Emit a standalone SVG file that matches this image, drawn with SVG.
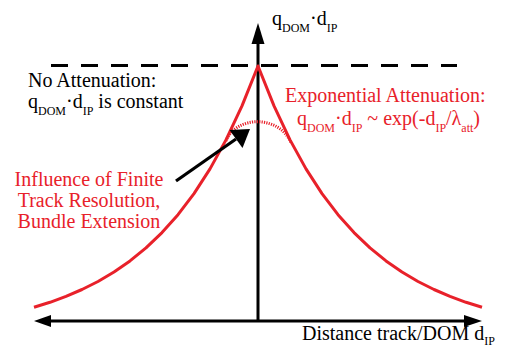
<svg xmlns="http://www.w3.org/2000/svg" width="505" height="348" viewBox="0 0 505 348">
<style>
  .t { font-family: "Liberation Serif", "Times New Roman", serif; font-size: 20px; fill: #000; }
  .red { fill: #e8212a; }
  .sub { font-size: 12px; }
  .axis { stroke: #000; stroke-width: 3; fill: none; }
  .curve { stroke: #e8212a; stroke-width: 3; fill: none; stroke-linejoin: round; stroke-linecap: butt; }
</style>
<g id="connectors">
  <!-- dashed constant line -->
  <line x1="51" y1="65.5" x2="457" y2="65.5" stroke="#000" stroke-width="3" stroke-dasharray="17 13"/>
  <!-- vertical axis -->
  <line class="axis" x1="258" y1="321" x2="258" y2="42"/>
  <path d="M251.5,44 L258,23 L264.5,44 Z" fill="#000"/>
  <!-- horizontal axis -->
  <line class="axis" x1="50" y1="321" x2="466" y2="321"/>
  <path d="M51,315 L34,321 L51,327 Z" fill="#000"/>
  <path d="M464,315 L482,321 L464,327 Z" fill="#000"/>
  <!-- exponential curve -->
  <path class="curve" d="M34,307.3 L50,302.3 L66,296.4 L82,289.5 L98,281.5 L114,272 L130,260.9 L146,247.9 L162,232.6 L178,214.7 L194,193.6 L210,168.9 L226,139.9 L242,105.9 L258,66 L274,105.9 L290,139.9 L306,168.9 L322,193.6 L338,214.7 L354,232.6 L370,247.9 L386,260.9 L402,272 L418,281.5 L434,289.5 L450,296.4 L466,302.3 L482,307.3"/>
  <!-- smoothed dotted curve -->
  <path d="M226,141 C236,115 280,115 291,143" fill="none" stroke="#e8212a" stroke-width="3" stroke-dasharray="1.2 1.2"/>
  <!-- pointer arrow -->
  <line x1="176" y1="181" x2="236" y2="139" stroke="#000" stroke-width="3.2"/>
  <path d="M250,129 L242.5,148 L229.5,130 Z" fill="#000"/>
</g>
<g id="ylabel">
  <text class="t" x="272" y="25">q<tspan class="sub" dy="7">DOM</tspan><tspan dy="-7">·d</tspan><tspan class="sub" dy="7">IP</tspan></text>
</g>
<g id="no-attenuation">
  <text class="t" x="28" y="87">No Attenuation:</text>
  <text class="t" x="28" y="108">q<tspan class="sub" dy="7">DOM</tspan><tspan dy="-7">·d</tspan><tspan class="sub" dy="7">IP</tspan><tspan dy="-7"> is constant</tspan></text>
</g>
<g id="exp-attenuation">
  <text class="t red" x="285" y="102">Exponential Attenuation:</text>
  <text class="t red" x="297" y="125">q<tspan class="sub" dy="7">DOM</tspan><tspan dy="-7">·d</tspan><tspan class="sub" dy="7">IP</tspan><tspan dy="-7"> ~ exp(-d</tspan><tspan class="sub" dy="7">IP</tspan><tspan dy="-7">/λ</tspan><tspan class="sub" dy="7">att</tspan><tspan dy="-7">)</tspan></text>
</g>
<g id="finite-resolution">
  <text class="t red" x="89" y="186" text-anchor="middle">Influence of Finite</text>
  <text class="t red" x="89" y="207" text-anchor="middle">Track Resolution,</text>
  <text class="t red" x="89" y="228" text-anchor="middle">Bundle Extension</text>
</g>
<g id="xlabel">
  <text class="t" x="302" y="340">Distance track/DOM d<tspan class="sub" dy="5">IP</tspan></text>
</g>
</svg>
